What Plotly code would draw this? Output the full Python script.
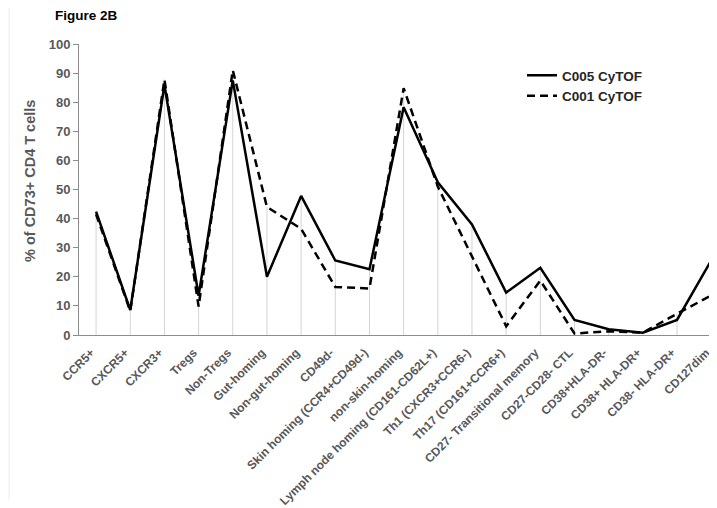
import plotly.graph_objects as go

categories = ["CCR5+", "CXCR5+", "CXCR3+", "Tregs", "Non-Tregs", "Gut-homing",
              "Non-gut-homing", "CD49d-", "Skin homing (CCR4+CD49d-)", "non-skin-homing",
              "Lymph node homing (CD161-CD62L+)", "Th1 (CXCR3+CCR6-)", "Th17 (CD161+CCR6+)",
              "CD27- Transitional memory", "CD27-CD28- CTL", "CD38+HLA-DR-",
              "CD38+ HLA-DR+", "CD38- HLA-DR+", "CD127dim"]
c005 = [42.4, 8.6, 86.0, 13.5, 87.5, 20.0, 47.8, 25.6, 22.6, 78.3,
        52.5, 38.0, 14.6, 23.1, 5.2, 2.0, 0.8, 5.2, 25.6]
c001 = [41.5, 8.2, 87.8, 9.8, 91.0, 44.0, 36.5, 16.5, 16.0, 84.8,
        51.0, 27.0, 3.0, 18.7, 0.5, 1.3, 0.8, 7.3, 13.6]
series_names = ["C005 CyTOF", "C001 CyTOF"]
y_ticks = list(range(0, 101, 10))

FONT = "Arial, Liberation Sans, sans-serif"
GRAY = "#595959"
OFF = 8    # page body margin
PW = 638   # plot width in px
PH = 291   # plot height in px

fig = go.Figure()

# drop lines from 0 to the higher series value
dx, dy = [], []
for c, a, b in zip(categories, c005, c001):
    dx += [c, c, None]
    dy += [0, max(a, b), None]
fig.add_trace(go.Scatter(x=dx, y=dy, mode="lines", line=dict(color="#d4d4d4", width=1),
                         showlegend=False, hoverinfo="skip"))

fig.add_trace(go.Scatter(x=categories, y=c005, mode="lines", name=series_names[0],
                         line=dict(color="black", width=2.5)))
fig.add_trace(go.Scatter(x=categories, y=c001, mode="lines", name=series_names[1],
                         line=dict(color="black", width=2.5, dash="8px,5px")))

fig.update_layout(
    width=717 - OFF, height=508 - OFF,
    margin=dict(l=79 - OFF, r=0, t=44 - OFF, b=173, autoexpand=False),
    paper_bgcolor="white", plot_bgcolor="white",
    font=dict(family=FONT, color=GRAY),
    showlegend=True,
    legend=dict(x=(522 - 79) / PW, y=(335 - 60) / PH, xanchor="left", yanchor="top",
                bgcolor="rgba(0,0,0,0)",
                font=dict(family=FONT, size=13.5, color="#262626", weight="bold"),
                tracegroupgap=0, itemwidth=30),
    xaxis=dict(type="category", range=[-0.5, 18.17], showgrid=False, showline=True,
               linecolor="#8c8c8c", linewidth=1, ticks="", tickangle=-45, automargin=False,
               ticklabelstandoff=5, ticklabelshift=-5,
               tickfont=dict(family=FONT, size=12, color=GRAY, weight="bold"),
               zeroline=False, fixedrange=True),
    yaxis=dict(range=[0, 100], tickvals=y_ticks, showgrid=False, showline=True,
               linecolor="#8c8c8c", linewidth=1, ticks="outside", ticklen=5,
               tickcolor="#8c8c8c", zeroline=False, automargin=False,
               tickfont=dict(family=FONT, size=13, color=GRAY, weight="bold")),
    annotations=[
        dict(text="Figure 2B", xref="paper", yref="paper",
             x=(53 - 79) / PW, y=(335 - 16) / PH, xanchor="left", yanchor="middle",
             showarrow=False,
             font=dict(family=FONT, size=13.5, color="black", weight="bold")),
        dict(text="% of CD73+ CD4 T cells", xref="paper", yref="paper",
             x=(30 - 79) / PW, y=(335 - 181) / PH, xanchor="center", yanchor="middle",
             textangle=-90, showarrow=False,
             font=dict(family=FONT, size=14.5, color=GRAY, weight="bold")),
    ],
    shapes=[dict(type="line", xref="paper", yref="paper",
                 x0=(9 - 79) / PW, x1=(9 - 79) / PW,
                 y0=(335 - 8) / PH, y1=(335 - 500) / PH,
                 line=dict(color="#ececec", width=1))],
)

fig.write_html("out.html")
